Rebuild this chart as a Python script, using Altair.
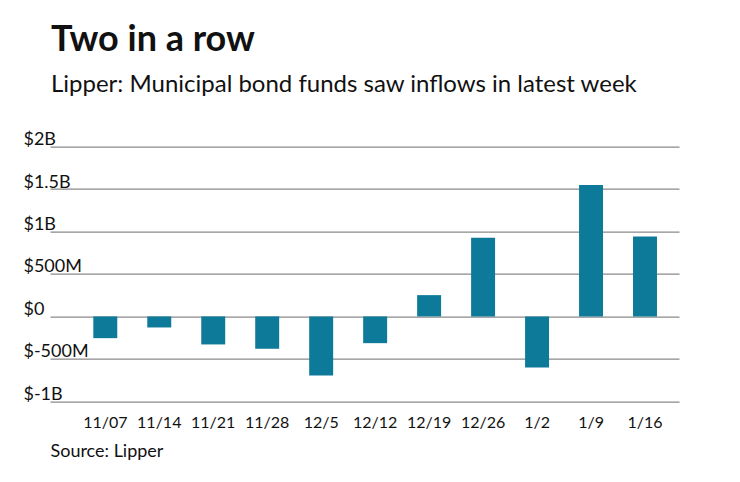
import altair as alt
import pandas as pd

weeks = ["11/07", "11/14", "11/21", "11/28", "12/5", "12/12", "12/19", "12/26", "1/2", "1/9", "1/16"]
flows_musd = [-256, -130, -330, -381, -696, -315, 251, 927, -601, 1548, 943]
y_ticks = [-1000, -500, 0, 500, 1000, 1500, 2000]

df = pd.DataFrame({"week": weeks, "flow": flows_musd})

FONT = "Lato"

label_expr = ("datum.value == 0 ? '$0' : (abs(datum.value) >= 1000 ? '$' + (datum.value/1000) + 'B' "
              ": '$' + datum.value + 'M')")

chart = alt.Chart(df).mark_bar(color="#0e7a99").encode(
    x=alt.X("week:N", sort=weeks,
            scale=alt.Scale(paddingInner=0.556, paddingOuter=0.605, align=0.663),
            axis=alt.Axis(title="Source: Lipper", titleAnchor="start", titleAlign="left",
                          titleX=0, titleY=55, titleBaseline="alphabetic",
                          titleFont=FONT, titleFontSize=18, titleFontWeight="normal",
                          titleColor="#111",
                          labelAngle=0, domain=False, ticks=False,
                          labelPadding=13, labelFontSize=16, labelFont=FONT,
                          labelColor="#111", labelBaseline="top")),
    y=alt.Y("flow:Q", scale=alt.Scale(domain=[-1000, 2000], nice=False),
            axis=alt.Axis(title=None, values=y_ticks, labelExpr=label_expr,
                          domain=False, ticks=False, labelAlign="left",
                          labelBaseline="alphabetic", labelOffset=-2,
                          labelPadding=27, labelFontSize=18, labelFont=FONT,
                          labelColor="#111", gridColor="#8a8a8a", gridWidth=1.2)),
).properties(
    width=629,
    height=254.6,
    title=alt.TitleParams(
        text="Two in a row",
        subtitle="Lipper: Municipal bond funds saw inflows in latest week",
        anchor="start", frame="group", font=FONT, fontSize=36, fontWeight="bold",
        color="#111", subtitleFont=FONT, subtitleFontSize=24, subtitleColor="#111",
        subtitlePadding=14, offset=33, dx=1,
    ),
    autosize=alt.AutoSizeParams(type="none"),
    padding={"left": 42, "top": 138.7, "right": 50, "bottom": 70},
).configure_view(stroke=None)

chart.save("out.html", embed_options={"renderer": "svg", "actions": False})
